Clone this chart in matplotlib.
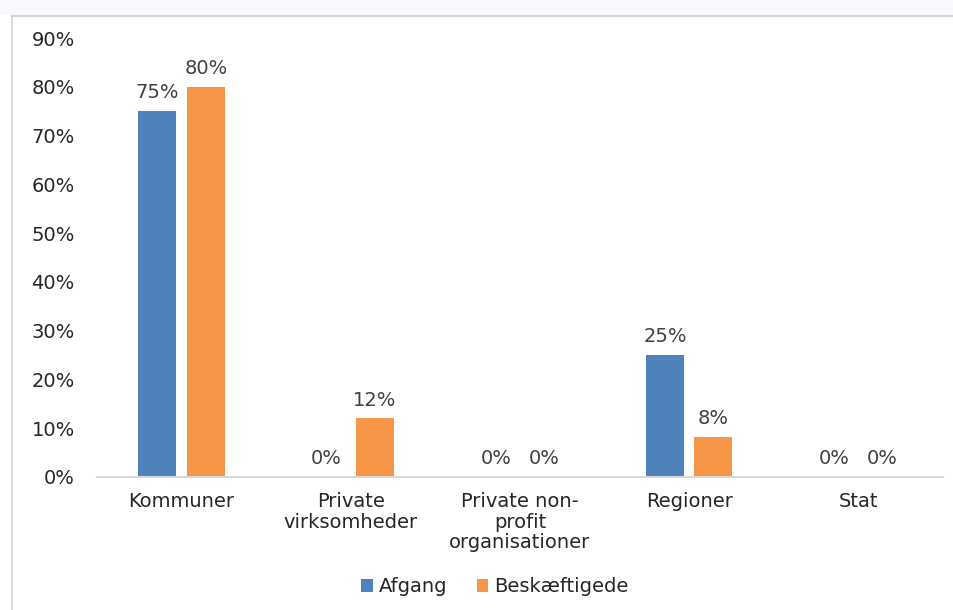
import matplotlib.pyplot as plt
import numpy as np
from matplotlib.patches import Rectangle
from matplotlib.lines import Line2D

categories = ["Kommuner", "Private\nvirksomheder", "Private non-\nprofit\norganisationer", "Regioner", "Stat"]
afgang = [0.75, 0.0, 0.0, 0.25, 0.0]
beskaeftigede = [0.80, 0.12, 0.0, 0.083, 0.0]
series_names = ["Afgang", "Beskæftigede"]
yticks = [0.0, 0.1, 0.2, 0.3, 0.4, 0.5, 0.6, 0.7, 0.8, 0.9]

blue = "#4f81bd"
orange = "#f79646"
text_col = "#262626"
fs = 14

W, H = 954, 610
fig = plt.figure(figsize=(W / 100, H / 100), dpi=100)
plt.rcParams['font.family'] = ['DejaVu Sans']

# outer frame like the screenshot
fig.patches.append(Rectangle((0, 1 - 15 / H), 1, 15 / H, transform=fig.transFigure,
                             facecolor="#f7f9ff", edgecolor="none"))
fig.lines.append(Line2D([12 / W, 1], [1 - 16 / H, 1 - 16 / H], transform=fig.transFigure,
                        color="#d4d4d4", lw=1.5))
fig.lines.append(Line2D([12 / W, 12 / W], [0, 1 - 16 / H], transform=fig.transFigure,
                        color="#d4d4d4", lw=1.2))

ax = fig.add_axes([97 / W, 1 - 477 / H, (943 - 97) / W, (477 - 38) / H])

x = np.arange(len(categories))
w = 0.225
off = 0.143
b1 = ax.bar(x - off, afgang, w, color=blue, label=series_names[0])
b2 = ax.bar(x + off, beskaeftigede, w, color=orange, label=series_names[1])

for bars, vals in [(b1, afgang), (b2, beskaeftigede)]:
    for rect, v in zip(bars, vals):
        ax.text(rect.get_x() + rect.get_width() / 2, v + 0.018, f"{v * 100:.0f}%",
                ha="center", va="bottom", fontsize=fs, color="#404040")

ax.set_xlim(-0.5, len(categories) - 0.5)
ax.set_ylim(0, 0.9)
ax.set_yticks(yticks)
ax.set_yticklabels([f"{t * 100:.0f}%" for t in yticks])
ax.set_xticks(x)
ax.set_xticklabels(categories, fontsize=fs, color=text_col, linespacing=1.1)
ax.tick_params(axis="y", length=0, pad=16, labelsize=fs, labelcolor=text_col)
ax.tick_params(axis="x", length=0, pad=11)

for s in ["top", "right", "left"]:
    ax.spines[s].set_visible(False)
ax.spines["bottom"].set_color("#d9d9d9")
ax.spines["bottom"].set_linewidth(1.5)

fig.legend(loc="center", bbox_to_anchor=(495 / W, 1 - 587 / H), ncol=2, frameon=False,
           fontsize=fs, handlelength=0.6, handleheight=0.6, handletextpad=0.3,
           columnspacing=1.5, labelcolor=text_col)

fig.savefig("out.png", dpi=100)
